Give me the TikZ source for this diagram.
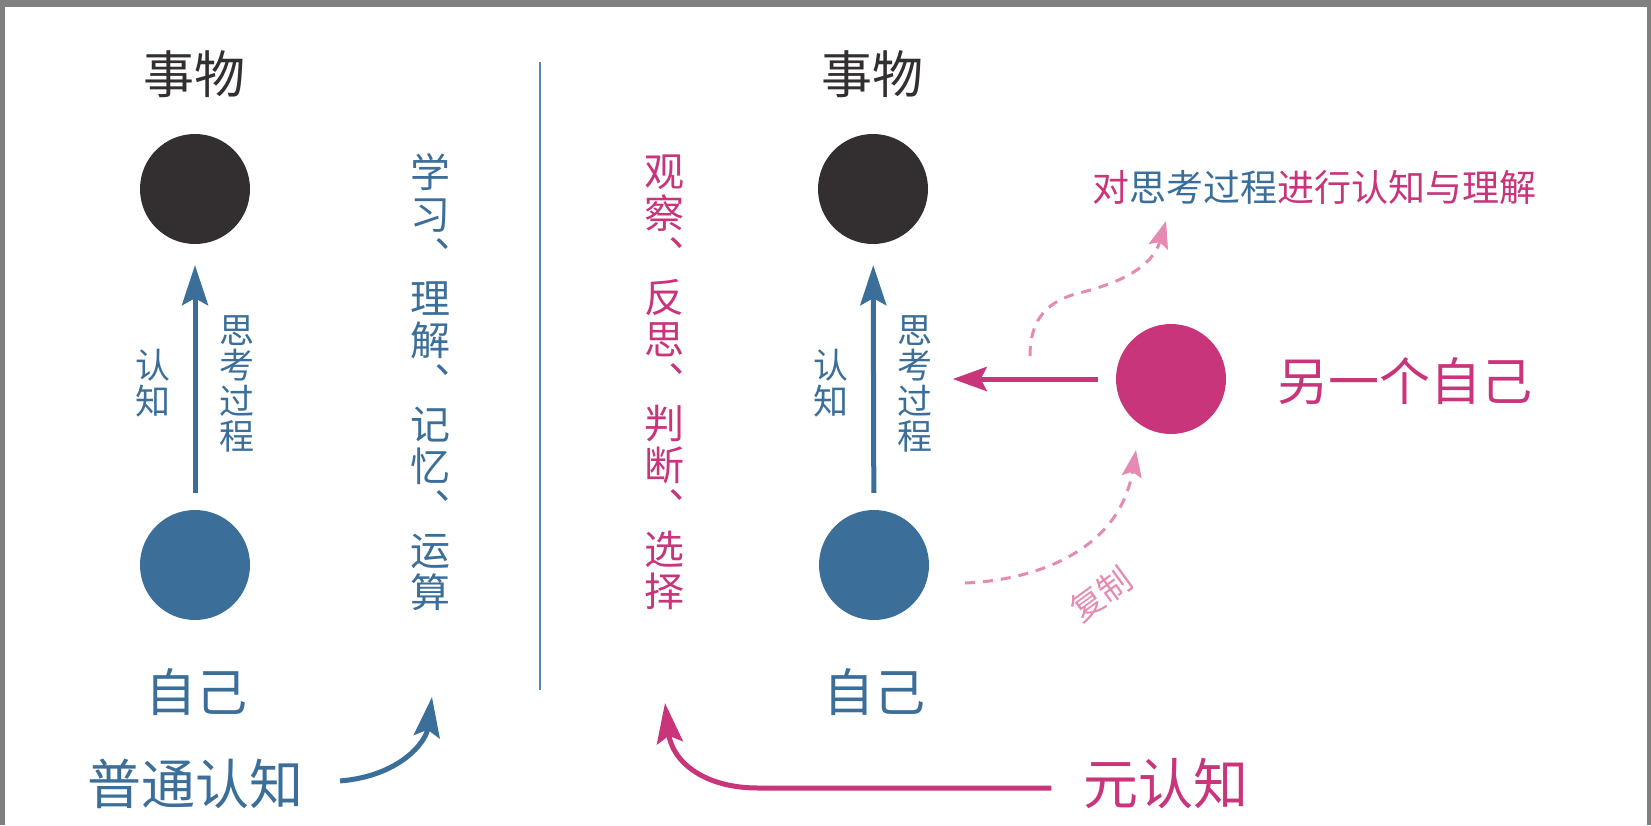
\documentclass[tikz,border=0pt]{standalone}
\usepackage{fontspec}
\usepackage{xcolor}
\usepackage{tikz}
\usetikzlibrary{arrows.meta}

\newfontfamily\cjk{Noto Sans CJK SC}
\definecolor{dotblack}{HTML}{332F31}
\definecolor{selfblue}{HTML}{3B6F9A}
\definecolor{metapink}{HTML}{C8357B}
\definecolor{lightpink}{HTML}{E58AB3}
\definecolor{framegray}{HTML}{808080}
\definecolor{divblue}{HTML}{5A86AD}

\begin{document}
\begin{tikzpicture}[x=1pt, y=-1pt,
    dot/.style={circle, inner sep=0pt, minimum size=110pt},
    big/.style={inner sep=0pt, font=\cjk\fontsize{51}{51}\selectfont},
    small/.style={inner sep=0pt, align=center, text=selfblue, font=\cjk\fontsize{35}{35.5}\selectfont},
    stack/.style={inner sep=0pt, align=center, font=\cjk\fontsize{40}{42}\selectfont},
    thick arrow/.style={line width=5pt, -{Stealth[length=40pt, width=26pt, inset=7pt]}},
    dashed arrow/.style={line width=3pt, lightpink, dash pattern=on 10pt off 8pt,
        -{Stealth[length=27pt, width=20pt, inset=5pt]}}]
    \useasboundingbox (0,0) rectangle (1651,825);
    \fill[framegray] (0,0) rectangle (1651,825);
    \fill[white] (5,7) rectangle (1647,825);

    % ordinary cognition
    \node[big, text=dotblack] at (194,74)  (topicL) {事物};
    \node[dot, fill=dotblack] at (195,189) (thingL) {};
    \node[dot, fill=selfblue] at (195,565) (selfL)  {};
    \node[big, text=selfblue] at (196,692) (meL)    {自己};
    \node[small] at (153,383) (cogL)  {认\\知};
    \node[small] at (237,384) (procL) {思\\考\\过\\程};
    \node[stack, text=selfblue] at (430,382) (listL) {学\\习\\︑\\理\\解\\︑\\记\\忆\\︑\\运\\算};
    \node[big, text=selfblue, font=\cjk\fontsize{54}{54}\selectfont] at (195,784) (normal) {普通认知};
    \coordinate (normalEnd) at (432,697);

    \draw[thick arrow, selfblue, shorten <=37pt, shorten >=0pt]
        (normal.east) .. controls (400,776) and (426,742) .. (normalEnd);
    \draw[thick arrow, selfblue, shorten <=17pt, shorten >=21pt] (selfL) -- (thingL);

    \draw[divblue, line width=2.5pt] (540,62) -- (540,690);

    % meta cognition
    \node[big, text=dotblack] at (872,74)  (topicR) {事物};
    \node[dot, fill=dotblack] at (873,189) (thingR) {};
    \node[dot, fill=selfblue] at (874,565) (selfR)  {};
    \node[big, text=selfblue] at (874,692) (meR)    {自己};
    \node[small] at (831,383) (cogR)  {认\\知};
    \node[small] at (915,384) (procR) {思\\考\\过\\程};
    \node[stack, text=metapink] at (664,382) (listR) {观\\察\\︑\\反\\思\\︑\\判\\断\\︑\\选\\择};
    \node[big, text=metapink, font=\cjk\fontsize{55}{55}\selectfont] at (1166,784) (meta) {元认知};
    \coordinate (metaCorner) at (758,788);
    \coordinate (metaEnd) at (665,703);

    \node[dot, fill=metapink] at (1171,379) (other) {};
    \node[big, text=metapink, anchor=west] at (1277,381) (otherTxt) {另一个自己};
    \node[inner sep=0pt, font=\cjk\fontsize{37}{37}\selectfont, anchor=west] at (1092,187) (aim)
        {\textcolor{metapink}{对}\textcolor{selfblue}{思考过程}\textcolor{metapink}{进行认知与理解}};
    \node[inner sep=0pt, text=lightpink, rotate=36, font=\cjk\fontsize{33}{33}\selectfont] at (1101,594) (copyTxt) {复制};
    \coordinate (copyStart) at (965,583);
    \coordinate (copyEnd)   at (1136,450);
    \coordinate (aimStart)  at (1030,356);
    \coordinate (aimEnd)    at (1166,221);

    \draw[thick arrow, selfblue, shorten <=17pt, shorten >=21pt] (selfR) -- (thingR);
    \draw[line width=5pt, metapink, -{Stealth[length=34pt, width=24pt, inset=6pt]},
        shorten <=18pt, shorten >=20pt] (other) -- (procR.east |- other);
    \draw[thick arrow, metapink, shorten <=32pt]
        (meta.west |- metaCorner) -- (metaCorner) .. controls (702,788) and (672,760) .. (metaEnd);
    \draw[dashed arrow] (copyStart) .. controls (1040,580) and (1120,548) .. (copyEnd);
    \draw[dashed arrow] (aimStart) .. controls (1030,318) and (1048,300) .. (1083,292)
        .. controls (1118,283) and (1152,268) .. (aimEnd);
\end{tikzpicture}
\end{document}
